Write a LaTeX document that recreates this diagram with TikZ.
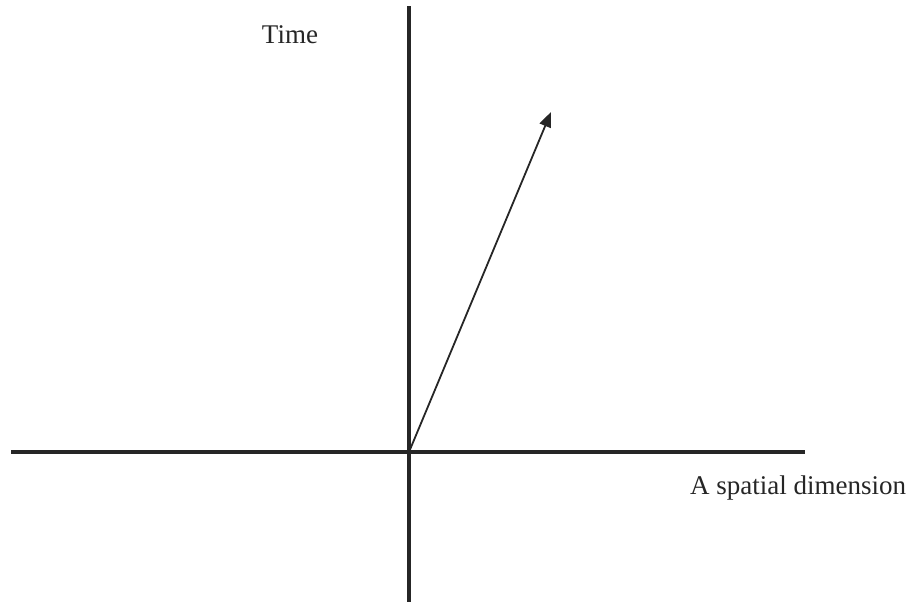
\documentclass[tikz,border=0pt]{standalone}
\usepackage{fontspec}
\setmainfont{Liberation Serif}
\usetikzlibrary{arrows.meta}
\begin{document}
\begin{tikzpicture}[x=1pt,y=1pt,
  axis/.style={line width=3.2pt,draw=black!85},
  vec/.style={line width=1.8pt,draw=black!85,-{Triangle[length=15pt,width=12pt]}},
  lbl/.style={font=\fontsize{27}{30}\selectfont,text=black!85,inner sep=0pt}]
\useasboundingbox (0,0) rectangle (911,602);
\coordinate (xl) at (11,150);
\coordinate (xr) at (805,150);
\coordinate (yb) at (409,0);
\coordinate (yt) at (409,596);
\coordinate (o) at (409,150);
\coordinate (tip) at (551,490);
\draw[axis] (xl) -- (xr);
\draw[axis] (yb) -- (yt);
\draw[vec] (o) -- (tip);
\node[lbl] (time) at (290,567) {Time};
\node[lbl] (space) at (798,114) {A spatial dimension};
\end{tikzpicture}
\end{document}
